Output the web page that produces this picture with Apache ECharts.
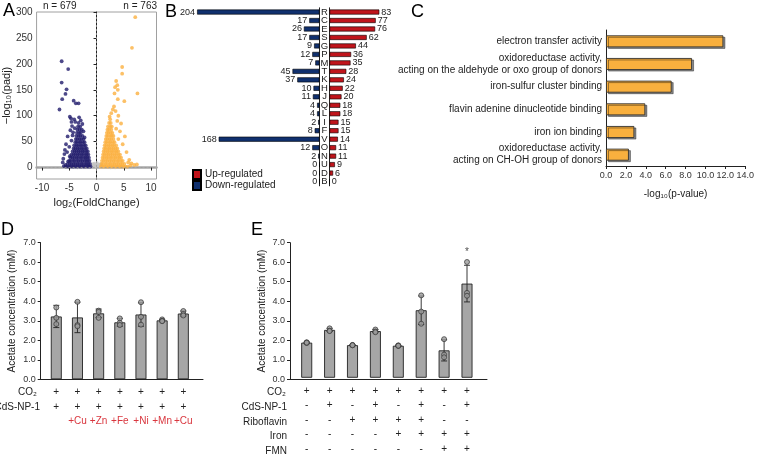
<!DOCTYPE html>
<html><head><meta charset="utf-8">
<script src="https://cdn.jsdelivr.net/npm/echarts@6/dist/echarts.min.js"></script>
<style>html,body{margin:0;padding:0;background:#fff}#c{width:757px;height:454px}</style>
</head><body><div id="c"></div>
<script>
// ---------- Panel A: volcano ----------
const volcanoDown = [
[-6.4,205],[-5.2,190],[-6.4,164],[-5.5,151],[-5.7,142],[-6.3,132],[-6.8,112],[-4.2,129],[-3.8,124],[-3.3,124],[-4.9,98],[-4.7,95],[-3.2,97],[-4.1,93],
[-5.8,34],[-5.9,26],[-6.1,17],[-6.2,10],[-5.6,45],[-5.3,60],[-4.8,72],[-4.5,80],[-4.4,62],[-5.0,40],[-4.6,52],[-5.4,30],[-5.2,12],[-4.9,22],[-5.7,5],[-6.0,3],
[-5.6,2],[-5.2,2],[-4.9,2],[-4.5,2],[-4.2,2],[-3.8,2],[-3.5,2],[-3.1,2],[-2.8,2],[-2.4,2],[-2.1,2],[-1.7,2],[-1.4,2],[-1.1,2],
[-5.3,7],[-4.9,7],[-4.6,7],[-4.2,7],[-3.9,7],[-3.5,7],[-3.2,7],[-2.8,7],[-2.5,7],[-2.1,7],[-1.8,7],[-1.5,7],[-1.2,7],
[-5.0,13],[-4.7,13],[-4.3,13],[-4.0,13],[-3.6,13],[-3.3,13],[-2.9,13],[-2.6,13],[-2.2,13],[-1.9,13],[-1.6,13],[-1.3,13],
[-4.8,19],[-4.4,19],[-4.1,19],[-3.7,19],[-3.4,19],[-3.0,19],[-2.7,19],[-2.3,19],[-2.0,19],[-1.7,19],[-1.4,19],
[-4.6,25],[-4.2,25],[-3.9,25],[-3.5,25],[-3.2,25],[-2.8,25],[-2.5,25],[-2.1,25],[-1.8,25],[-1.5,25],
[-4.4,31],[-4.0,31],[-3.7,31],[-3.3,31],[-3.0,31],[-2.6,31],[-2.3,31],[-1.9,31],[-1.6,31],
[-4.2,37],[-3.9,37],[-3.5,37],[-3.2,37],[-2.8,37],[-2.5,37],[-2.1,37],[-1.8,37],
[-4.1,43],[-3.7,43],[-3.4,43],[-3.0,43],[-2.7,43],[-2.3,43],[-2.0,43],
[-3.9,49],[-3.6,49],[-3.2,49],[-2.9,49],[-2.5,49],[-2.2,49],
[-3.8,55],[-3.5,55],[-3.1,55],[-2.8,55],[-2.4,55],
[-3.7,61],[-3.3,61],[-3.0,61],[-2.6,61],
[-3.6,67],[-3.2,67],[-2.9,67],
[-3.5,73],[-3.1,73],[-2.7,73],
[-3.4,79],[-3.0,79],[-3.3,86],
[-3.9,88],[-2.6,84],[-4.0,76],[-2.4,70],[-4.3,68],[-2.2,58],[-4.6,88],[-2.9,91]
];
const volcanoUp = [
[7.1,290],[6.5,231],[4.7,194],[4.7,181],[7.5,143],[3.6,167],[3.8,159],[3.4,155],[3.9,150],[3.3,143],[3.9,132],[5.1,128],[3.5,109],[3.0,112],[2.7,105],[3.2,118],[4.0,100],[2.4,98],[4.5,85],[3.8,90],[5.2,60],[4.8,45],[5.5,30],[6.0,15],[6.4,8],[6.9,5],[7.4,6],[5.8,10],[6.2,4],[4.3,70],[4.0,55],[3.6,75],
[0.8,2],[1.1,2],[1.5,2],[1.8,2],[2.2,2],[2.5,2],[2.9,2],[3.2,2],[3.6,2],[3.9,2],[4.3,2],[4.6,2],[5.0,2],[5.3,2],[5.7,2],
[0.9,7],[1.2,7],[1.6,7],[1.9,7],[2.3,7],[2.6,7],[3.0,7],[3.3,7],[3.7,7],[4.0,7],[4.4,7],[4.7,7],[5.1,7],
[1.0,13],[1.3,13],[1.7,13],[2.0,13],[2.4,13],[2.7,13],[3.1,13],[3.4,13],[3.8,13],[4.1,13],[4.5,13],[4.8,13],
[1.1,19],[1.4,19],[1.8,19],[2.1,19],[2.5,19],[2.8,19],[3.2,19],[3.5,19],[3.9,19],[4.2,19],[4.5,19],
[1.2,25],[1.5,25],[1.9,25],[2.2,25],[2.6,25],[2.9,25],[3.3,25],[3.6,25],[4.0,25],[4.3,25],
[1.3,31],[1.6,31],[2.0,31],[2.3,31],[2.7,31],[3.0,31],[3.4,31],[3.7,31],[4.0,31],
[1.4,37],[1.7,37],[2.1,37],[2.4,37],[2.8,37],[3.1,37],[3.5,37],[3.8,37],
[1.5,43],[1.8,43],[2.2,43],[2.5,43],[2.9,43],[3.2,43],[3.6,43],
[1.6,49],[1.9,49],[2.3,49],[2.6,49],[3.0,49],[3.3,49],
[1.7,55],[2.0,55],[2.4,55],[2.7,55],[3.1,55],
[1.8,61],[2.1,61],[2.5,61],[2.8,61],[3.1,61],
[1.9,67],[2.2,67],[2.6,67],[2.9,67],
[2.0,73],[2.3,73],[2.7,73],
[2.1,79],[2.5,79],[2.8,79],
[2.3,86],[2.6,86],[2.5,93]
];
const volcanoNS = [
[-0.9,1],[-0.6,2],[-0.3,1],[0,0.5],[0.3,1.5],[0.6,1],[0.9,0.5],[-0.8,4],[-0.5,5],[-0.2,3],[0.2,4],[0.5,3],[0.8,5],
[-0.7,7],[0.7,7],[-0.4,8],[0.4,6],[0,2],[1.2,0.5],[-1.2,0.5],[1.5,1],[-1.6,1],[-0.1,6],[0.1,9],[-2.5,0.5],[2.6,0.4],[-3.5,0.3],[3.4,0.3]
];
const volcanoXTicks = [-10,-5,0,5,10];
const volcanoYTicks = [0,50,100,150,200,250,300];
const nDown = 679, nUp = 763;

// ---------- Panel B: COG categories ----------
const cogLetters = ['R','C','E','S','G','P','M','T','K','H','J','Q','L','I','F','V','O','N','U','D','B'];
const cogUp =   [83,77,76,62,44,36,35,28,24,22,20,18,18,15,15,14,11,11,9,6,0];
const cogDown = [204,17,26,17,9,12,7,45,37,10,11,4,4,2,8,168,12,2,0,0,0];

// ---------- Panel C: GO terms ----------
const goTerms = ['electron transfer activity','oxidoreductase activity,\nacting on the aldehyde or oxo group of donors','iron-sulfur cluster binding','flavin adenine dinucleotide binding','iron ion binding','oxidoreductase activity,\nacting on CH-OH group of donors'];
const goValues = [11.8,8.65,6.6,3.95,2.85,2.3];

// ---------- Panel D ----------
const dCO2 =  ['+','+','+','+','+','+','+'];
const dCdS =  ['+','+','+','+','+','+','+'];
const dMetal = ['','+Cu','+Zn','+Fe','+Ni','+Mn','+Cu'];
const dMean = [3.22,3.17,3.38,2.92,3.32,3.02,3.37];
const dSD =   [0.57,0.78,0.22,0.2,0.6,0.05,0.13];
const dPoints = [[3.68,2.83,3.15],[3.97,2.78,2.72],[3.52,3.45,3.15],[3.12,2.9,2.78],[3.95,3.2,2.8],[3.07,3.0,2.98],[3.5,3.35,3.27]];

// ---------- Panel E ----------
const eCO2 =  ['+','+','+','+','+','+','+','+'];
const eCdS =  ['-','+','-','+','-','+','-','+'];
const eRibo = ['-','-','+','+','+','+','-','-'];
const eIron = ['-','-','-','-','+','+','+','+'];
const eFMN =  ['-','-','-','-','-','-','+','+'];
const eMean = [1.82,2.48,1.69,2.42,1.66,3.5,1.42,4.88];
const eSD =   [0.03,0.08,0.02,0.08,0.02,0.74,0.55,0.95];
const ePoints = [[1.84,1.8,1.82],[2.56,2.44,2.42],[1.7,1.68,1.69],[2.5,2.4,2.36],[1.68,1.65,1.66],[4.27,3.43,2.8],[2.0,1.2,1.06],[6.0,4.4,4.25]];
const eSig = ['','','','','','','','*'];

// ---------- build ----------
const FONT = 'Liberation Sans, Arial, Helvetica, sans-serif';
const TXT = '#222';
const chart = echarts.init(document.getElementById('c'), null, {renderer:'canvas'});

function errRender(params, api){
  const x = api.value(0), lo = api.value(1), hi = api.value(2);
  const a = api.coord([x, lo]), b = api.coord([x, hi]);
  const w = 3, st = {stroke:'#222', lineWidth:0.9};
  return {type:'group', children:[
    {type:'line', shape:{x1:a[0],y1:a[1],x2:b[0],y2:b[1]}, style:st},
    {type:'line', shape:{x1:b[0]-w,y1:b[1],x2:b[0]+w,y2:b[1]}, style:st},
    {type:'line', shape:{x1:a[0]-w,y1:a[1],x2:a[0]+w,y2:a[1]}, style:st}
  ]};
}
function pointData(pts){ const out=[]; pts.forEach((arr,i)=>arr.forEach(v=>out.push([i,v]))); return out; }

const baseAxisLabel = {color:'#333', fontSize:9, fontFamily:FONT};
const blackLine = {show:true, lineStyle:{color:'#222', width:1}};

function concYAxis(grid, show){
  return {type:'value', gridIndex:grid, min:0, max:7, interval:1,
    axisLine: show? blackLine : {show:false},
    axisTick: show? {show:true, length:3, lineStyle:{color:'#222'}} : {show:false},
    axisLabel: show? Object.assign({}, baseAxisLabel, {formatter:v=>v.toFixed(1), margin:5}) : {show:false},
    splitLine:{show:false},
    name: show? 'Acetate concentration (mM)' : '', nameLocation:'middle', nameGap:23,
    nameTextStyle:{fontSize:10, color:TXT, fontFamily:FONT}};
}

const option = {
  animation:false,
  textStyle:{fontFamily:FONT},
  grid:[
    {left:36.5, top:12, width:120, height:167, show:true, borderColor:'#a0a0a0', borderWidth:1}, //0 volcano
    {left:193.5, top:7.8, width:126, height:178}, //1 B left
    {left:329.5, top:7.8, width:126, height:178}, //2 B right
    {left:606, top:30, width:145, height:136}, //3 C
    {left:40.7, top:242.7, width:162.3, height:136.6}, //4 D axes
    {left:45.7, top:242.7, width:148.2, height:136.6}, //5 D data
    {left:290, top:242.7, width:197, height:136.6}, //6 E axes
    {left:295.25, top:242.7, width:183.2, height:136.6} //7 E data
  ],
  xAxis:[
    {type:'value', gridIndex:0, min:-11, max:11, axisLine:blackLine,
      axisTick:{show:true, length:3, customValues:volcanoXTicks, lineStyle:{color:'#222'}},
      axisLabel:Object.assign({}, baseAxisLabel, {fontSize:10, customValues:volcanoXTicks, margin:4}),
      splitLine:{show:false},
      name:'log\u2082(FoldChange)', nameLocation:'middle', nameGap:18, nameTextStyle:{fontSize:11, color:TXT}},
    {type:'value', gridIndex:1, min:0, max:210, inverse:true, show:false},
    {type:'value', gridIndex:2, min:0, max:210, show:false},
    {type:'value', gridIndex:3, min:0, max:14, interval:2, axisLine:blackLine,
      axisTick:{show:true, length:3, lineStyle:{color:'#222'}},
      axisLabel:Object.assign({}, baseAxisLabel, {formatter:v=>v.toFixed(1), margin:5}),
      splitLine:{show:false},
      name:'-log\u2081\u2080(p-value)', nameLocation:'middle', nameGap:23, nameTextStyle:{fontSize:10, color:TXT}},
    {type:'value', gridIndex:4, min:0, max:1, axisLine:blackLine, axisTick:{show:false}, axisLabel:{show:false}, splitLine:{show:false}},
    {type:'category', gridIndex:5, data:dMean.map((v,i)=>'d'+i), axisLine:{show:false}, axisTick:{show:false},
      axisLabel:{interval:0, margin:6, formatter:(v,i)=>'{p|'+dCO2[i]+'}\n{p|'+dCdS[i]+'}\n{r|'+(dMetal[i]||' ')+'}',
        rich:{p:{fontSize:10, lineHeight:14.3, color:TXT, fontFamily:FONT}, r:{fontSize:10, lineHeight:14.3, color:'#d9363e', fontFamily:FONT}}}},
    {type:'value', gridIndex:6, min:0, max:1, axisLine:blackLine, axisTick:{show:false}, axisLabel:{show:false}, splitLine:{show:false}},
    {type:'category', gridIndex:7, data:eMean.map((v,i)=>'e'+i), axisLine:{show:false}, axisTick:{show:false},
      axisLabel:{interval:0, margin:6, formatter:(v,i)=>['{p|'+eCO2[i]+'}','{p|'+eCdS[i]+'}','{p|'+eRibo[i]+'}','{p|'+eIron[i]+'}','{p|'+eFMN[i]+'}'].join('\n'),
        rich:{p:{fontSize:10, lineHeight:14.5, color:TXT, fontFamily:FONT}}}},
    {type:'value', gridIndex:0, position:'top', min:-11, max:11, axisLine:{show:true, lineStyle:{color:'#a8a8a8', width:2.5}}, axisTick:{show:false}, axisLabel:{show:false}, splitLine:{show:false}}
  ],
  yAxis:[
    {type:'value', gridIndex:0, min:-22, max:300, axisLine:blackLine,
      axisTick:{show:true, length:3, customValues:volcanoYTicks, lineStyle:{color:'#222'}},
      axisLabel:Object.assign({}, baseAxisLabel, {fontSize:10, customValues:volcanoYTicks, margin:4}),
      splitLine:{show:false},
      name:'\u2212log\u2081\u2080(padj)', nameLocation:'middle', nameGap:22, nameTextStyle:{fontSize:11, color:TXT}},
    {type:'category', gridIndex:1, data:cogLetters, inverse:true, position:'right', axisLine:blackLine, axisTick:{show:false}, axisLabel:{show:false}},
    {type:'category', gridIndex:2, data:cogLetters, inverse:true, position:'left', axisLine:blackLine, axisTick:{show:false},
      axisLabel:{interval:0, align:'center', margin:5, fontSize:9.5, color:TXT, fontFamily:FONT}},
    {type:'category', gridIndex:3, data:goTerms, inverse:true, axisLine:blackLine, axisTick:{show:false},
      axisLabel:{interval:0, fontSize:10, color:TXT, lineHeight:12, margin:4, align:'right', fontFamily:FONT}},
    concYAxis(4, true), concYAxis(5, false), concYAxis(6, true), concYAxis(7, false),
    {type:'value', gridIndex:0, position:'right', min:-22, max:300, axisLine:{show:false}, axisTick:{show:false}, axisLabel:{show:false}, splitLine:{show:false}}
  ],
  legend:{data:['Up-regulated','Down-regulated'], orient:'vertical', left:187, top:164, itemWidth:8, itemHeight:9, itemGap:0,
    textStyle:{fontSize:10, color:TXT, fontFamily:FONT, padding:[0,0,0,-1]}, icon:'rect'},
  series:[
    {type:'scatter', xAxisIndex:0, yAxisIndex:0, data:volcanoNS, symbolSize:3.5, itemStyle:{color:'#c4c4c4'}, silent:true,
      markLine:{silent:true, symbol:'none', label:{show:false}, lineStyle:{color:'#9a9a9a', type:[2,2], width:0.8},
        data:[{xAxis:0},{yAxis:1.3}]}},
    {type:'scatter', xAxisIndex:0, yAxisIndex:0, data:volcanoDown, symbolSize:3.8, itemStyle:{color:'#211c6b'}},
    {type:'scatter', xAxisIndex:0, yAxisIndex:0, data:volcanoUp, symbolSize:3.8, itemStyle:{color:'#fbb040'}},
    {name:'Down-regulated', type:'bar', xAxisIndex:1, yAxisIndex:1, data:cogDown, barWidth:5,
      itemStyle:{color:'#10306e', borderColor:'#000', borderWidth:0.6},
      label:{show:true, position:'left', distance:2, fontSize:9, color:TXT, fontFamily:FONT}},
    {name:'Up-regulated', type:'bar', xAxisIndex:2, yAxisIndex:2, data:cogUp, barWidth:5,
      itemStyle:{color:'#c0141b', borderColor:'#000', borderWidth:0.6},
      label:{show:true, position:'right', distance:2, fontSize:9, color:TXT, fontFamily:FONT}},
    {type:'bar', xAxisIndex:3, yAxisIndex:3, data:goValues, barWidth:12,
      itemStyle:{color:'#f9b03e', borderColor:'#333', borderWidth:0.9, shadowColor:'rgba(0,0,0,0.45)', shadowBlur:0, shadowOffsetX:2, shadowOffsetY:1.5}},
    {type:'bar', xAxisIndex:5, yAxisIndex:5, data:dMean, barWidth:11, itemStyle:{color:'#a6a6a6', borderColor:'#222', borderWidth:0.9}},
    {type:'custom', xAxisIndex:5, yAxisIndex:5, renderItem:errRender, encode:{x:0, y:[1,2]}, z:3,
      data:dMean.map((m,i)=>[i, m-dSD[i], m+dSD[i]])},
    {type:'scatter', xAxisIndex:5, yAxisIndex:5, data:pointData(dPoints), symbolSize:5, z:4,
      itemStyle:{color:'#9c9c9c', borderColor:'#333', borderWidth:0.9}},
    {type:'bar', xAxisIndex:7, yAxisIndex:7, data:eMean, barWidth:11, itemStyle:{color:'#a6a6a6', borderColor:'#222', borderWidth:0.9}},
    {type:'custom', xAxisIndex:7, yAxisIndex:7, renderItem:errRender, encode:{x:0, y:[1,2]}, z:3,
      data:eMean.map((m,i)=>[i, m-eSD[i], m+eSD[i]])},
    {type:'scatter', xAxisIndex:7, yAxisIndex:7, data:pointData(ePoints), symbolSize:5, z:4,
      itemStyle:{color:'#9c9c9c', borderColor:'#333', borderWidth:0.9}},
    {type:'scatter', xAxisIndex:7, yAxisIndex:7, symbolSize:0, z:5,
      data:eSig.map((s,i)=>s? {value:[i, Math.max(...ePoints[i], eMean[i]+eSD[i])], sig:s} : null).filter(Boolean),
      label:{show:true, position:'top', distance:5, fontSize:10, color:TXT, formatter:p=>p.data.sig}}
  ],
  graphic:[
    {type:'text', x:3, y:2, style:{text:'A', fontSize:18, fill:'#000', fontFamily:FONT}},
    {type:'text', x:165, y:3, style:{text:'B', fontSize:18, fill:'#000', fontFamily:FONT}},
    {type:'text', x:411, y:3, style:{text:'C', fontSize:18, fill:'#000', fontFamily:FONT}},
    {type:'text', x:1, y:221, style:{text:'D', fontSize:18, fill:'#000', fontFamily:FONT}},
    {type:'text', x:251, y:221, style:{text:'E', fontSize:18, fill:'#000', fontFamily:FONT}},
    {type:'text', x:43, y:6, style:{text:'n = '+nDown, fontSize:10, fill:TXT, fontFamily:FONT, verticalAlign:'middle'}},
    {type:'text', x:157, y:6, style:{text:'n = '+nUp, fontSize:10, fill:TXT, fontFamily:FONT, align:'right', verticalAlign:'middle'}},
    {type:'text', x:37, y:392.7, style:{text:'CO\u2082', fontSize:10, fill:TXT, fontFamily:FONT, align:'right', verticalAlign:'middle'}},
    {type:'text', x:40, y:407, style:{text:'CdS-NP-1', fontSize:10, fill:TXT, fontFamily:FONT, align:'right', verticalAlign:'middle'}},
    {type:'text', x:286, y:392.7, style:{text:'CO\u2082', fontSize:10, fill:TXT, fontFamily:FONT, align:'right', verticalAlign:'middle'}},
    {type:'text', x:287, y:407.5, style:{text:'CdS-NP-1', fontSize:10, fill:TXT, fontFamily:FONT, align:'right', verticalAlign:'middle'}},
    {type:'text', x:287, y:422, style:{text:'Riboflavin', fontSize:10, fill:TXT, fontFamily:FONT, align:'right', verticalAlign:'middle'}},
    {type:'text', x:287, y:436.5, style:{text:'Iron', fontSize:10, fill:TXT, fontFamily:FONT, align:'right', verticalAlign:'middle'}},
    {type:'text', x:287, y:451, style:{text:'FMN', fontSize:10, fill:TXT, fontFamily:FONT, align:'right', verticalAlign:'middle'}}
  ]
};
chart.setOption(option);
</script>
</body></html>
